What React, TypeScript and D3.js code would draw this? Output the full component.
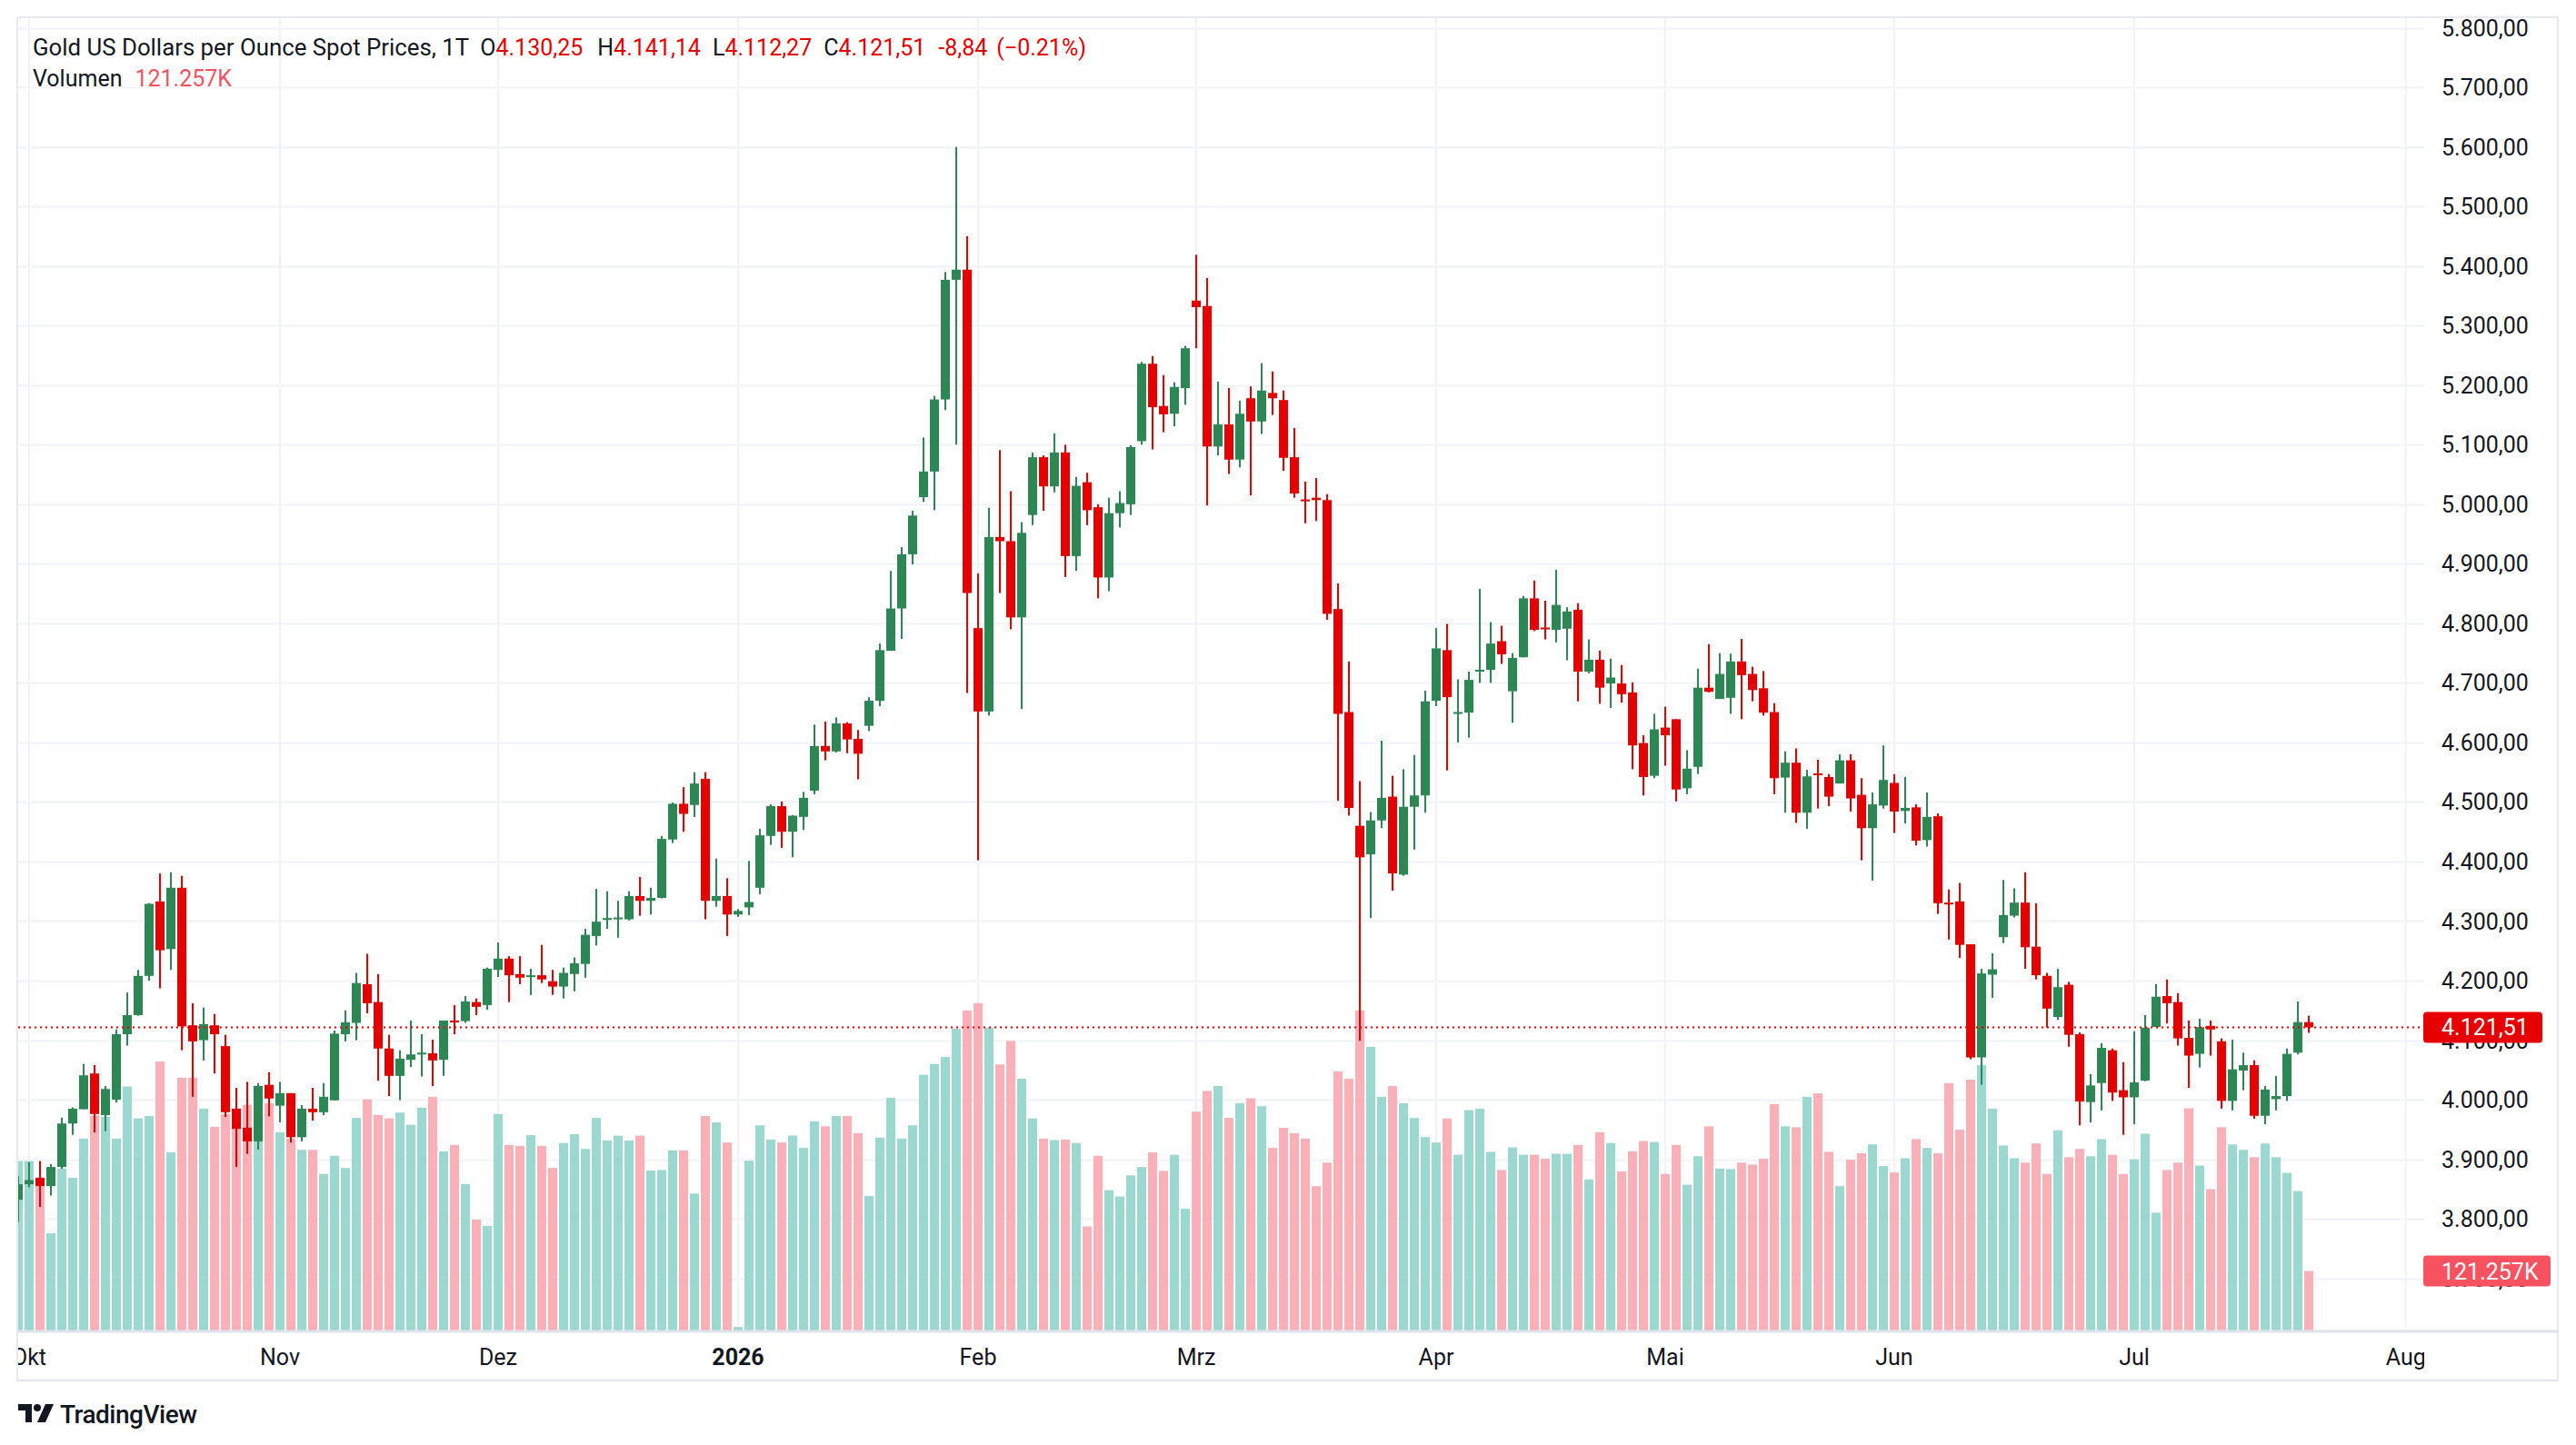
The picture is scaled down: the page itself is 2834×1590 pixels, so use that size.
import { useEffect, useRef } from "react";
import * as d3 from "d3";

const W = 2834;
const H = 1590;

// daily candles, Sep 30 2025 .. Jul 23 2026 (index = trading day)
const opens = [
  3832, 3858, 3869, 3855, 3887, 3960, 3984, 4044, 3974, 4000, 4110, 4142, 4208, 4333, 4253, 4356, 4125, 4100, 4125, 4090,
  3985, 3953, 3930, 4025, 3990, 4011, 3937, 3985, 3979, 3999, 4110, 4129, 4194, 4164, 4086, 4040, 4067, 4078, 4078, 4067,
  4133, 4132, 4164, 4159, 4218, 4237, 4211, 4206, 4209, 4199, 4190, 4211, 4228, 4275, 4304, 4304, 4303, 4342, 4334, 4339,
  4437, 4497, 4495, 4539, 4334, 4342, 4311, 4323, 4356, 4443, 4493, 4450, 4475, 4519, 4594, 4585, 4632, 4606, 4628, 4670,
  4754, 4825, 4916, 5012, 5055, 5176, 5377, 5394, 4792, 4652, 4945, 4938, 4810, 4982, 5079, 5030, 5087, 4913, 5037, 4995,
  4877, 4985, 5000, 5106, 5236, 5165, 5152, 5195, 5342, 5333, 5097, 5134, 5075, 5178, 5139, 5187, 5175, 5079, 5008, 5011,
  5007, 4824, 4651, 4460, 4412, 4469, 4509, 4378, 4492, 4511, 4670, 4755, 4648, 4650, 4720, 4722, 4770, 4686, 4743, 4842,
  4793, 4789, 4791, 4823, 4719, 4739, 4699, 4699, 4684, 4599, 4544, 4625, 4639, 4523, 4559, 4692, 4673, 4675, 4736, 4715,
  4691, 4651, 4541, 4566, 4482, 4548, 4542, 4531, 4570, 4512, 4456, 4494, 4532, 4485, 4491, 4436, 4476, 4331, 4333, 4261,
  4071, 4210, 4273, 4309, 4331, 4257, 4208, 4139, 4193, 4110, 3996, 4028, 4083, 4016, 4004, 4032, 4122, 4174, 4164, 4104,
  4077, 4124, 4098, 3998, 4049, 4058, 3973, 4001, 4006, 4079, 4130.25,
];
const highs = [
  3872, 3895, 3897, 3892, 3970, 3987, 4060, 4058, 4023, 4118, 4180, 4218, 4330, 4380, 4382, 4376, 4162, 4155, 4144, 4109,
  4020, 4030, 4028, 4046, 4030, 4011, 3991, 4020, 4028, 4116, 4150, 4213, 4245, 4211, 4109, 4083, 4133, 4110, 4101, 4133,
  4159, 4174, 4170, 4222, 4264, 4241, 4241, 4220, 4260, 4218, 4222, 4239, 4287, 4354, 4350, 4334, 4350, 4374, 4356, 4443,
  4499, 4525, 4550, 4550, 4405, 4372, 4320, 4401, 4455, 4496, 4501, 4478, 4517, 4630, 4635, 4642, 4634, 4621, 4676, 4766,
  4888, 4928, 4989, 5112, 5182, 5390, 5600, 5450, 4884, 4994, 5091, 5022, 4970, 5087, 5082, 5119, 5100, 5046, 5053, 5000,
  5011, 5022, 5099, 5239, 5249, 5217, 5205, 5266, 5419, 5380, 5206, 5195, 5174, 5198, 5237, 5223, 5191, 5128, 5038, 5044,
  5017, 4867, 4736, 4535, 4483, 4603, 4544, 4555, 4579, 4687, 4792, 4799, 4706, 4719, 4858, 4802, 4796, 4750, 4846, 4872,
  4838, 4890, 4827, 4834, 4773, 4754, 4741, 4730, 4701, 4612, 4648, 4660, 4639, 4587, 4724, 4765, 4750, 4749, 4774, 4727,
  4720, 4666, 4585, 4590, 4554, 4571, 4547, 4580, 4580, 4540, 4516, 4595, 4547, 4542, 4496, 4516, 4481, 4353, 4364, 4261,
  4220, 4246, 4369, 4355, 4382, 4330, 4213, 4220, 4198, 4113, 4043, 4095, 4086, 4063, 4115, 4142, 4194, 4202, 4179, 4133,
  4136, 4133, 4103, 4101, 4079, 4066, 4023, 4040, 4086, 4165, 4141.14,
];
const lows = [
  3795, 3853, 3820, 3839, 3884, 3941, 3984, 3945, 3947, 3995, 4091, 4141, 4200, 4187, 4218, 4083, 4005, 4066, 4044, 3971,
  3887, 3909, 3916, 3972, 3962, 3928, 3930, 3965, 3974, 3999, 4098, 4100, 4145, 4032, 4006, 3999, 4055, 4039, 4023, 4040,
  4110, 4129, 4142, 4151, 4206, 4164, 4194, 4176, 4196, 4176, 4170, 4182, 4205, 4259, 4287, 4272, 4301, 4309, 4311, 4338,
  4431, 4450, 4475, 4303, 4324, 4275, 4307, 4310, 4345, 4428, 4423, 4407, 4453, 4513, 4570, 4583, 4582, 4538, 4619, 4661,
  4754, 4774, 4899, 5004, 4990, 5158, 5100, 4683, 4402, 4645, 4851, 4790, 4656, 4965, 4989, 5020, 4878, 4888, 4965, 4842,
  4854, 4961, 4982, 5100, 5092, 5121, 5131, 5167, 5262, 4998, 5082, 5051, 5062, 5015, 5118, 5150, 5056, 5011, 4968, 4972,
  4806, 4502, 4477, 4099, 4305, 4456, 4351, 4376, 4420, 4482, 4661, 4553, 4600, 4608, 4700, 4700, 4732, 4633, 4743, 4787,
  4773, 4768, 4738, 4669, 4716, 4665, 4658, 4667, 4555, 4511, 4540, 4561, 4501, 4513, 4547, 4684, 4673, 4648, 4639, 4669,
  4645, 4513, 4482, 4465, 4455, 4489, 4493, 4531, 4484, 4402, 4368, 4489, 4448, 4464, 4427, 4425, 4312, 4269, 4238, 4068,
  4025, 4171, 4263, 4306, 4220, 4202, 4121, 4134, 4089, 3957, 3962, 3982, 3998, 3941, 3959, 4031, 4122, 4128, 4091, 4020,
  4054, 4074, 3985, 3982, 4016, 3968, 3959, 3982, 3998, 4076, 4112.27,
];
const closes = [
  3858, 3865, 3855, 3887, 3960, 3985, 4041, 3976, 4018, 4110, 4142, 4208, 4329, 4251, 4356, 4123, 4098, 4127, 4110, 3979,
  3951, 3930, 4023, 4002, 4011, 3937, 3985, 3979, 4005, 4111, 4130, 4196, 4162, 4086, 4040, 4069, 4076, 4079, 4066, 4133,
  4132, 4165, 4156, 4220, 4237, 4209, 4205, 4209, 4202, 4190, 4213, 4229, 4277, 4299, 4305, 4306, 4342, 4334, 4339, 4438,
  4497, 4480, 4531, 4334, 4342, 4311, 4317, 4332, 4444, 4493, 4450, 4477, 4507, 4594, 4585, 4632, 4605, 4581, 4670, 4755,
  4825, 4916, 4981, 5055, 5176, 5377, 5394, 4851, 4652, 4945, 4938, 4810, 4952, 5079, 5030, 5087, 4913, 5031, 4990, 4877,
  4985, 5002, 5096, 5236, 5163, 5151, 5197, 5262, 5331, 5097, 5134, 5075, 5152, 5139, 5191, 5178, 5078, 5018, 5005, 5007,
  4816, 4648, 4490, 4407, 4469, 4507, 4380, 4492, 4511, 4669, 4758, 4676, 4651, 4705, 4722, 4766, 4748, 4742, 4842, 4789,
  4790, 4831, 4820, 4719, 4739, 4692, 4709, 4681, 4595, 4542, 4622, 4612, 4521, 4556, 4692, 4685, 4715, 4736, 4713, 4688,
  4650, 4540, 4566, 4482, 4543, 4546, 4509, 4570, 4506, 4456, 4496, 4537, 4484, 4490, 4435, 4475, 4330, 4329, 4260, 4071,
  4212, 4219, 4310, 4331, 4256, 4209, 4153, 4189, 4109, 3997, 4024, 4087, 4012, 4004, 4029, 4121, 4173, 4162, 4103, 4074,
  4122, 4118, 3998, 4051, 4058, 3973, 4017, 4006, 4077, 4130.35, 4121.51,
];
// volume in thousands
const volumes = [
  345, 345, 308, 198, 330, 311, 391, 438, 435, 391, 497, 432, 437, 548, 363, 515, 515, 452, 415, 441,
  411, 460, 386, 463, 404, 391, 368, 368, 319, 356, 331, 433, 471, 439, 432, 444, 419, 454, 476, 365,
  378, 298, 226, 213, 441, 378, 376, 398, 376, 331, 382, 400, 370, 433, 387, 397, 387, 397, 326, 327,
  367, 367, 279, 437, 424, 383, 7, 346, 418, 389, 383, 397, 372, 426, 416, 437, 437, 402, 274, 393,
  474, 391, 418, 521, 543, 557, 615, 652, 667, 617, 542, 590, 513, 432, 391, 388, 389, 382, 212, 356,
  286, 273, 316, 333, 363, 325, 358, 248, 446, 488, 498, 433, 463, 473, 457, 372, 413, 402, 391, 294,
  342, 528, 513, 652, 578, 476, 498, 463, 433, 394, 383, 432, 358, 449, 452, 364, 327, 373, 358, 358,
  350, 360, 360, 378, 308, 404, 382, 324, 365, 386, 384, 319, 378, 297, 355, 416, 330, 329, 342, 338,
  350, 461, 416, 414, 476, 483, 364, 294, 348, 361, 379, 335, 322, 351, 390, 372, 361, 504, 409, 511,
  541, 452, 377, 351, 342, 381, 319, 408, 353, 370, 355, 390, 358, 319, 349, 401, 240, 327, 342, 453,
  336, 288, 414, 379, 368, 353, 381, 353, 321, 284, 121.257,
];

const priceTicks = [
  3700, 3800, 3900, 4000, 4100, 4200, 4300, 4400, 4500, 4600, 4700, 4800, 4900, 5000, 5100, 5200, 5300, 5400, 5500, 5600,
  5700, 5800,
];
const monthTicks = [
  { label: "Okt", i: 1 },
  { label: "Nov", i: 24 },
  { label: "Dez", i: 44 },
  { label: "2026", i: 66, bold: true },
  { label: "Feb", i: 88 },
  { label: "Mrz", i: 108 },
  { label: "Apr", i: 130 },
  { label: "Mai", i: 151 },
  { label: "Jun", i: 172 },
  { label: "Jul", i: 194 },
  { label: "Aug", i: 218.9 },
];

const UP = "#2b8753";
const DOWN = "#e60000";
const VOL_UP = "#92d5cb";
const VOL_DOWN = "#faa9b0";
const TEXT = "#131722";
const GRID = "#f2f3f6";
const BORDER = "#e0e3eb";
const FONT = "Roboto, 'Noto Sans', sans-serif";

const de = d3.formatLocale({ decimal: ",", thousands: ".", grouping: [3], currency: ["", ""] });
const fmt = de.format(",.2f");

export default function App() {
  const ref = useRef<HTMLDivElement | null>(null);

  useEffect(() => {
    if (!ref.current) return;
    document.body.style.margin = "0";
    d3.select(ref.current).selectAll("svg").remove();

    const L = 19, T = 19, R = 2667, B = 1464, AXR = 2814, AXB = 1519;
    const n = closes.length;

    const x = d3.scaleLinear([0, n - 1], [20, 20 + 12 * (n - 1)]);
    const y = d3.scaleLinear([3800, 5800], [1341.1, 30.7]);
    const yVol = d3.scaleLinear([0, 700], [B, B - 700 * 0.5401]);

    const svg = d3
      .select(ref.current)
      .append("svg")
      .attr("width", W)
      .attr("height", H)
      .style("display", "block")
      .style("background", "#fff")
      .attr("font-family", FONT);

    const defs = svg.append("defs");
    defs.append("clipPath").attr("id", "plot").append("rect")
      .attr("x", 20).attr("y", T).attr("width", R - 20).attr("height", B - T);
    defs.append("clipPath").attr("id", "timeaxis").append("rect")
      .attr("x", 20).attr("y", B).attr("width", R - 20).attr("height", AXB - B);

    // grid
    const grid = svg.append("g").attr("clip-path", "url(#plot)");
    grid.selectAll("line.h").data(priceTicks).join("line")
      .attr("x1", L).attr("x2", R)
      .attr("y1", (d) => Math.round(y(d)) + 0.5).attr("y2", (d) => Math.round(y(d)) + 0.5)
      .attr("stroke", GRID).attr("stroke-width", 2);
    grid.selectAll("line.v").data(monthTicks).join("line")
      .attr("x1", (d) => x(d.i)).attr("x2", (d) => x(d.i))
      .attr("y1", T).attr("y2", B)
      .attr("stroke", GRID).attr("stroke-width", 2);

    const idx = d3.range(n);
    const plot = svg.append("g").attr("clip-path", "url(#plot)");

    // volume
    plot.append("g").selectAll("rect").data(idx).join("rect")
      .attr("x", (i) => x(i) - 5)
      .attr("width", 10)
      .attr("y", (i) => yVol(volumes[i]))
      .attr("height", (i) => B - yVol(volumes[i]))
      .attr("fill", (i) => (closes[i] >= opens[i] ? VOL_UP : VOL_DOWN))
      .attr("fill-opacity", 0.92);

    // candles
    const c = plot.append("g").selectAll("g").data(idx).join("g");
    c.append("rect")
      .attr("x", (i) => x(i) - 1)
      .attr("width", 2)
      .attr("y", (i) => y(highs[i]))
      .attr("height", (i) => Math.max(1, y(lows[i]) - y(highs[i])))
      .attr("fill", (i) => (closes[i] >= opens[i] ? UP : DOWN));
    c.append("rect")
      .attr("x", (i) => x(i) - 5)
      .attr("width", 10)
      .attr("y", (i) => y(Math.max(opens[i], closes[i])))
      .attr("height", (i) => Math.max(2, Math.abs(y(opens[i]) - y(closes[i]))))
      .attr("fill", (i) => (closes[i] >= opens[i] ? UP : DOWN));

    // last price line
    const last = n - 1;
    plot.append("line")
      .attr("x1", 20).attr("x2", R)
      .attr("y1", y(closes[last])).attr("y2", y(closes[last]))
      .attr("stroke", DOWN).attr("stroke-width", 2).attr("stroke-dasharray", "2 4");

    // frame
    svg.append("line").attr("x1", L).attr("x2", AXR).attr("y1", T).attr("y2", T).attr("stroke", BORDER).attr("stroke-width", 1.5);
    svg.append("line").attr("x1", L).attr("x2", L).attr("y1", T).attr("y2", AXB).attr("stroke", BORDER).attr("stroke-width", 1.5);
    svg.append("line").attr("x1", AXR).attr("x2", AXR).attr("y1", T).attr("y2", AXB).attr("stroke", BORDER).attr("stroke-width", 1.5);
    svg.append("line").attr("x1", L).attr("x2", AXR).attr("y1", B + 1).attr("y2", B + 1).attr("stroke", "#dfe2ea").attr("stroke-width", 3);
    svg.append("line").attr("x1", L).attr("x2", AXR).attr("y1", AXB).attr("y2", AXB).attr("stroke", BORDER).attr("stroke-width", 2);

    // price axis
    svg.append("g").selectAll("text").data(priceTicks).join("text")
      .attr("x", 2686).attr("y", (d) => y(d)).attr("dy", "0.36em")
      .attr("font-size", 25).attr("fill", TEXT)
      .text((d) => fmt(d));

    const priceBox = svg.append("g").attr("transform", `translate(2666,${y(closes[last])})`);
    priceBox.append("rect").attr("x", 0).attr("y", -17).attr("width", 131).attr("height", 34).attr("rx", 4).attr("fill", DOWN);
    priceBox.append("text").attr("x", 20).attr("dy", "0.36em").attr("font-size", 25).attr("fill", "#fff").text(fmt(closes[last]));

    const volBox = svg.append("g").attr("transform", `translate(2666,${yVol(volumes[last])})`);
    volBox.append("rect").attr("x", 0).attr("y", -17).attr("width", 140).attr("height", 34).attr("rx", 4).attr("fill", "#f7525f");
    volBox.append("text").attr("x", 20).attr("dy", "0.36em").attr("font-size", 25).attr("fill", "#fff").text("121.257K");

    // time axis
    svg.append("g").attr("clip-path", "url(#timeaxis)").selectAll("text").data(monthTicks).join("text")
      .attr("x", (d) => x(d.i)).attr("y", 1502)
      .attr("text-anchor", "middle").attr("font-size", 25)
      .attr("font-weight", (d) => (d.bold ? 700 : 400))
      .attr("fill", TEXT)
      .text((d) => d.label);

    // legend
    const chg = closes[last] - closes[last - 1];
    const pct = (chg / closes[last - 1]) * 100;
    const parts = [
      { t: "Gold US Dollars per Ounce Spot Prices, 1T", c: TEXT, dx: 0, fs: 25.8 },
      { t: "O", c: TEXT, dx: 12, fs: 25 },
      { t: fmt(opens[last]), c: DOWN, dx: 0, fs: 25 },
      { t: "H", c: TEXT, dx: 16, fs: 25 },
      { t: fmt(highs[last]), c: DOWN, dx: 0, fs: 25 },
      { t: "L", c: TEXT, dx: 13, fs: 25 },
      { t: fmt(lows[last]), c: DOWN, dx: 0, fs: 25 },
      { t: "C", c: TEXT, dx: 13, fs: 25 },
      { t: fmt(closes[last]), c: DOWN, dx: 0, fs: 25 },
      { t: "-" + fmt(Math.abs(chg)), c: DOWN, dx: 14, fs: 25 },
      { t: `(\u2212${Math.abs(pct).toFixed(2)}%)`, c: DOWN, dx: 10, fs: 25 },
    ];
    const l1 = svg.append("text").attr("x", 36).attr("y", 61);
    parts.forEach((p) => l1.append("tspan").attr("dx", p.dx).attr("font-size", p.fs).attr("fill", p.c).text(p.t));

    const l2 = svg.append("text").attr("x", 36).attr("y", 95).attr("font-size", 25);
    l2.append("tspan").attr("fill", TEXT).text("Volumen");
    l2.append("tspan").attr("dx", 14).attr("fill", "#f7525f").text("121.257K");

    // TradingView logo
    const logo = svg.append("g").attr("transform", "translate(20,1545)").attr("fill", TEXT);
    logo.append("path").attr("d", "M0,0 H15 V20 H8 V7 H0 Z");
    logo.append("circle").attr("cx", 21).attr("cy", 4).attr("r", 4);
    logo.append("path").attr("d", "M30,0 H39 L30,20 H21 Z");
    svg.append("text").attr("x", 66).attr("y", 1566).attr("font-size", 28).attr("font-weight", 500)
      .attr("fill", TEXT).attr("letter-spacing", -0.5).text("TradingView");
  }, []);

  return <div ref={ref}></div>;
}
